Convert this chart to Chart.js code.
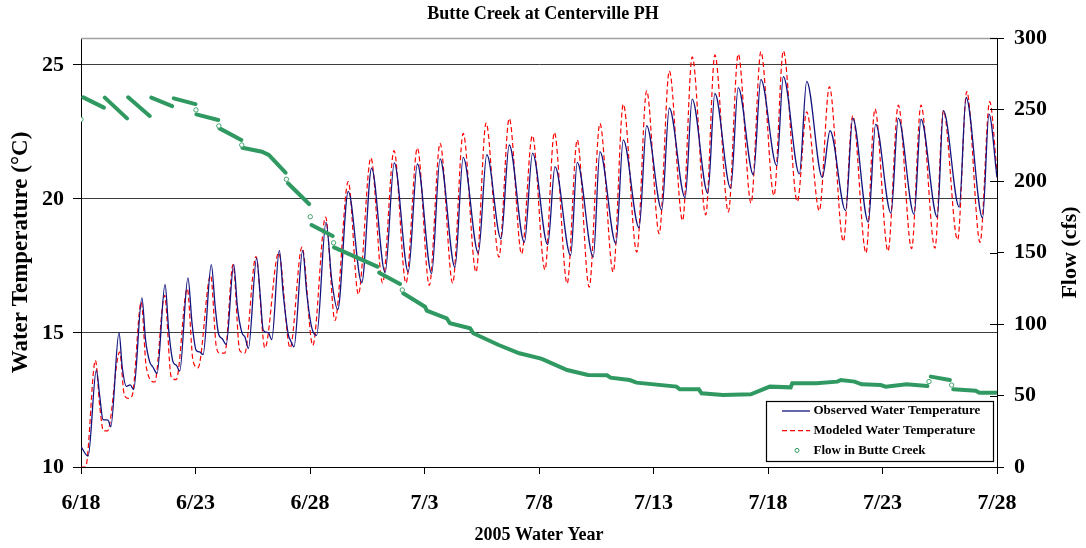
<!DOCTYPE html>
<html>
<head>
<meta charset="utf-8">
<title>Butte Creek at Centerville PH</title>
<script src="https://cdn.jsdelivr.net/npm/chart.js@4.4.1/dist/chart.umd.min.js"></script>
<style>
  body { margin: 0; background: #fff; }
  #wrap { width: 1086px; height: 548px; }
</style>
</head>
<body>
<div id="wrap"><canvas id="graficoButte" width="1086" height="548"></canvas></div>
<script>
// datos (x = dias desde 6/18 0:00)
const tickLabels = ['6/18', '6/23', '6/28', '7/3', '7/8', '7/13', '7/18', '7/23', '7/28'];

const obsTime = [0.00, 0.31, 0.67, 0.82, 0.96, 1.18, 1.30, 1.66, 1.80, 1.98, 2.15, 2.30, 2.66, 2.82, 3.00, 3.14, 3.32,
  3.67, 3.83, 4.02, 4.16, 4.31, 4.67, 4.85, 5.03, 5.18, 5.33, 5.69, 5.86, 6.01, 6.16, 6.34, 6.67, 6.83, 7.03, 7.16, 7.31,
  7.67, 7.82, 7.96, 8.18, 8.33, 8.66, 8.83, 9.05, 9.16, 9.30, 9.68, 9.86, 10.07, 10.29, 10.70, 10.95, 11.21, 11.67,
  12.26, 12.69, 13.28, 13.68, 14.29, 14.69, 15.31, 15.68, 16.33, 16.69, 17.35, 17.72, 18.34, 18.70, 19.36, 19.72,
  20.38, 20.70, 21.38, 21.67, 22.37, 22.66, 23.36, 23.68, 24.37, 24.70, 25.36, 25.69, 26.38, 26.69, 27.37, 27.68,
  28.37, 28.70, 29.36, 29.69, 30.38, 30.67, 31.37, 31.69, 32.37, 32.71, 33.39, 33.70, 34.38, 34.70, 35.37, 35.69,
  36.38, 36.68, 37.39, 37.66, 38.35, 38.65, 39.37, 39.65, 40.00];
const obsTemp = [10.76, 10.41, 13.61, 12.62, 11.77, 11.75, 11.50, 15.01, 13.73, 13.01, 13.06, 12.89, 16.31, 14.73, 13.92, 13.73, 13.49,
  16.81, 15.10, 13.92, 13.80, 13.58, 17.05, 15.35, 14.35, 14.29, 14.19, 17.55, 15.97, 14.95, 14.79, 14.57, 17.55, 15.97, 15.00, 14.85, 14.42,
  17.79, 16.46, 15.10, 15.01, 14.75, 18.08, 16.46, 14.95, 14.70, 14.48, 18.08, 16.46, 15.22, 14.91, 19.13, 16.96, 15.87, 20.28,
  16.87, 21.15, 17.25, 21.34, 17.27, 21.30, 17.21, 21.49, 17.45, 21.55, 17.98, 21.65, 18.51, 22.01, 18.38, 21.71,
  18.29, 21.20, 17.89, 21.36, 17.83, 21.76, 18.33, 22.20, 18.92, 22.73, 19.59, 23.39, 20.04, 23.72, 20.21, 23.93,
  20.39, 24.15, 20.90, 24.46, 21.24, 24.56, 20.93, 24.38, 20.80, 22.54, 19.56, 23.01, 19.13, 22.79, 19.47, 23.01,
  19.42, 22.97, 19.32, 23.29, 19.69, 23.78, 19.29, 23.16, 20.80];

const modTime = [0.00, 0.20, 0.63, 0.82, 0.98, 1.16, 1.69, 1.88, 2.05, 2.23, 2.63, 2.85, 3.22, 3.65, 3.94, 4.16, 4.64,
  4.89, 5.11, 5.66, 5.91, 6.06, 6.28, 6.64, 6.93, 7.15, 7.64, 8.03, 8.63, 9.13, 9.65, 10.12, 10.68, 11.09, 11.67,
  12.11, 12.66, 13.17, 13.67, 14.19, 14.69, 15.21, 15.68, 16.23, 16.69, 17.25, 17.69, 18.25, 18.70, 19.24, 19.71,
  20.26, 20.67, 21.23, 21.67, 22.19, 22.66, 23.24, 23.68, 24.27, 24.70, 25.25, 25.69, 26.27, 26.69, 27.28, 27.68,
  28.27, 28.70, 29.26, 29.69, 30.26, 30.67, 31.28, 31.69, 32.24, 32.68, 33.29, 33.70, 34.28, 34.67, 35.24, 35.69,
  36.27, 36.68, 37.29, 37.66, 38.28, 38.68, 39.26, 39.68, 40.00];
const modTemp = [10.00, 10.00, 13.98, 12.25, 11.35, 11.35, 14.29, 12.74, 12.56, 12.65, 16.15, 13.73, 13.17, 16.40, 13.36, 13.26, 16.65,
  13.98, 13.70, 17.15, 14.48, 14.25, 14.25, 17.55, 14.35, 14.25, 17.85, 14.44, 17.99, 14.44, 18.20, 14.54, 19.32, 15.47, 20.64,
  16.44, 21.53, 16.87, 21.80, 16.86, 21.90, 16.77, 22.07, 16.86, 22.44, 17.27, 22.83, 17.83, 23.00, 17.95, 22.36,
  17.36, 22.48, 16.84, 22.20, 16.71, 22.81, 17.27, 23.53, 18.01, 24.03, 18.70, 24.77, 19.19, 25.30, 19.40, 25.37,
  19.51, 25.40, 19.84, 25.49, 20.12, 25.52, 19.90, 23.25, 19.56, 24.19, 18.41, 23.10, 17.98, 23.35, 18.05, 23.50,
  18.14, 23.50, 18.16, 23.29, 18.47, 24.00, 18.38, 23.63, 21.00];

// null = corte en la serie de caudal
const flowTime = [0.00, 0.00, 0.10, 1.00, 1.00, 1.04, 2.01, 2.01, 2.06, 3.00, 3.00, 3.07, 3.98, 3.98, 4.05, 5.00, 5.00,
  5.02, 5.02, 5.04, 5.99, 5.99, 6.02, 6.02, 6.05, 7.00, 7.00, 7.02, 7.02, 7.05, 7.90, 8.20, 8.93, 8.93, 8.97, 8.97,
  9.04, 9.96, 9.96, 10.01, 10.01, 10.07, 10.99, 10.99, 11.03, 11.03, 11.05, 12.94, 12.94, 13.02, 13.93, 13.93,
  14.03, 14.03, 14.07, 15.02, 15.10, 15.97, 16.11, 16.99, 17.13, 18.24, 19.14, 20.05, 20.17, 21.23, 22.14, 22.97,
  23.12, 23.96, 24.26, 26.00, 26.15, 26.98, 27.10, 28.03, 29.25, 30.08, 30.99, 31.06, 32.12, 33.03, 33.18, 33.78,
  34.09, 34.92, 35.14, 36.05, 36.96, 36.96, 37.03, 37.03, 37.11, 37.94, 37.94, 38.02, 38.02, 38.09, 39.07, 39.23, 39.98];
const flowCfs = [243.1, null, 258.5, 251.3, null, 258.3, 243.8, null, 258.5, 245.5, null, 258.3, 252.4, null, 257.8, 253.8, null,
  249.7, null, 246.6, 242.7, null, 238.5, null, 236.8, 228.7, null, 225.2, null, 223.3, 220.5, 218.2, 205.8, null, 201.2, null,
  198.4, 183.9, null, 175.0, null, 169.2, 161.5, null, 156.8, null, 153.6, 140.1, null, 135.9, 128.0, null,
  123.8, null, 121.5, 112.1, 109.3, 104.0, 100.5, 97.0, 93.5, 85.3, 79.5, 76.0, 75.3, 67.8, 64.3, 64.1,
  62.5, 60.8, 59.0, 56.2, 54.3, 54.3, 51.5, 50.3, 50.8, 56.2, 55.7, 58.5, 58.5, 59.7, 60.8, 59.7,
  57.8, 57.3, 56.2, 57.8, 56.6, null, 59.7, null, 63.2, 60.8, null, 57.3, null, 54.3, 53.4, 52.0, 52.0];

const serif = "'Liberation Serif', 'Times New Roman', serif";

function pares(xs, ys) {
    return xs.map((x, i) => ({ x: x, y: ys[i] }));
}

// puntos sueltos del caudal (sin vecinos) se dibujan como circulitos
function puntoSuelto(ctx) {
    const d = ctx.dataset.data;
    const i = ctx.dataIndex;
    if (d[i].y === null) return 0;
    const prev = i > 0 ? d[i - 1].y : null;
    const next = i < d.length - 1 ? d[i + 1].y : null;
    return (prev === null && next === null) ? 2.2 : 0;
}

const extras = {
    id: 'extras',
    afterDraw(chart, args, opts) {
        const { ctx, chartArea } = chart;
        const y1 = chart.scales.y1;
        ctx.save();
        // borde superior del area
        ctx.strokeStyle = '#a0a0a0';
        ctx.lineWidth = 1.5;
        ctx.beginPath();
        ctx.moveTo(chartArea.left, chartArea.top + 0.5);
        ctx.lineTo(chartArea.right, chartArea.top + 0.5);
        ctx.stroke();
        // marcas internas del eje derecho
        ctx.strokeStyle = '#000';
        ctx.lineWidth = 1;
        y1.ticks.forEach(t => {
            const py = Math.round(y1.getPixelForValue(t.value)) + 0.5;
            ctx.beginPath();
            ctx.moveTo(chartArea.right - 7, py);
            ctx.lineTo(chartArea.right, py);
            ctx.stroke();
        });
        // titulo eje derecho
        ctx.fillStyle = '#000';
        ctx.font = 'bold 22px ' + serif;
        ctx.textAlign = 'center';
        ctx.textBaseline = 'middle';
        ctx.translate(opts.flowTitleX, (chartArea.top + chartArea.bottom) / 2);
        ctx.rotate(-Math.PI / 2);
        ctx.fillText(opts.flowTitle, 0, 0);
        ctx.restore();

        // leyenda
        const b = opts.box;
        ctx.save();
        ctx.fillStyle = '#fff';
        ctx.fillRect(b.x, b.y, b.w, b.h);
        ctx.strokeStyle = '#000';
        ctx.lineWidth = 1.2;
        ctx.strokeRect(b.x + 0.5, b.y + 0.5, b.w, b.h);
        ctx.font = 'bold 13px ' + serif;
        ctx.textBaseline = 'middle';
        chart.data.datasets.forEach((ds, i) => {
            const ry = b.y + 10 + i * 19.7;
            ctx.strokeStyle = ds.borderColor;
            if (ds.legendDot) {
                ctx.lineWidth = 1;
                ctx.fillStyle = '#fff';
                ctx.beginPath();
                ctx.arc(b.x + 31, ry, 2, 0, Math.PI * 2);
                ctx.fill();
                ctx.stroke();
            } else {
                ctx.lineWidth = ds.borderWidth;
                ctx.setLineDash(ds.borderDash || []);
                ctx.beginPath();
                ctx.moveTo(b.x + 16, ry);
                ctx.lineTo(b.x + 44, ry);
                ctx.stroke();
                ctx.setLineDash([]);
            }
            ctx.fillStyle = '#000';
            ctx.textAlign = 'left';
            ctx.fillText(ds.label, b.x + 47.5, ry);
        });
        ctx.restore();
    }
};

const ctxButte = document.getElementById('graficoButte');

let butteChart = new Chart(ctxButte, {
    type: 'line',
    data: {
        datasets: [{
            label: 'Observed Water Temperature',
            data: pares(obsTime, obsTemp),
            borderColor: '#13137f',
            borderWidth: 1.3,
            pointRadius: 0,
            cubicInterpolationMode: 'monotone',
            yAxisID: 'y',
            order: 1
        }, {
            label: 'Modeled Water Temperature',
            data: pares(modTime, modTemp),
            borderColor: '#ff0000',
            borderWidth: 1.2,
            borderDash: [5, 3],
            pointRadius: 0,
            cubicInterpolationMode: 'monotone',
            yAxisID: 'y',
            order: 2
        }, {
            label: 'Flow in Butte Creek',
            data: pares(flowTime, flowCfs),
            borderColor: 'rgb(48, 153, 98)',
            borderWidth: 4,
            borderCapStyle: 'round',
            tension: 0,
            spanGaps: false,
            pointRadius: puntoSuelto,
            pointBorderWidth: 1,
            pointBackgroundColor: '#fff',
            pointBorderColor: 'rgb(70, 165, 110)',
            legendDot: true,
            yAxisID: 'y1',
            order: 0
        }]
    },
    options: {
        responsive: false,
        animation: false,
        events: [],
        layout: { padding: 0 },
        plugins: {
            legend: { display: false },
            tooltip: { enabled: false },
            title: {
                display: true,
                text: 'Butte Creek at Centerville PH',
                color: '#000',
                font: { family: serif, size: 18, weight: 'bold' },
                padding: { top: 4, bottom: 12.4 }
            },
            extras: {
                flowTitle: 'Flow (cfs)',
                flowTitleX: 1070,
                box: { x: 766, y: 401, w: 227, h: 60 }
            }
        },
        scales: {
            x: {
                type: 'linear',
                position: 'bottom',
                min: 0,
                max: 40,
                afterFit: s => { s.height = 81; },
                ticks: {
                    stepSize: 5,
                    autoSkip: false,
                    maxRotation: 0,
                    padding: 16,
                    color: '#000',
                    font: { family: serif, size: 22, weight: 'bold' },
                    callback: (v, i) => tickLabels[i]
                },
                grid: { drawOnChartArea: false, tickLength: 7, tickColor: '#000' },
                border: { color: '#000', width: 1 },
                title: {
                    display: true,
                    text: '2005 Water Year',
                    color: '#000',
                    font: { family: serif, size: 18, weight: 'bold' },
                    padding: { top: 0, bottom: 2 }
                }
            },
            y: {
                position: 'left',
                min: 10,
                max: 26,
                afterFit: s => { s.width = 81; },
                ticks: {
                    stepSize: 5,
                    includeBounds: false,
                    padding: 9,
                    color: '#000',
                    font: { family: serif, size: 22, weight: 'bold' }
                },
                grid: { color: '#3c3c3c', lineWidth: 1, tickLength: 8, tickColor: '#000' },
                border: { color: '#000', width: 1 },
                title: {
                    display: true,
                    text: 'Water Temperature (°C)',
                    color: '#000',
                    font: { family: serif, size: 23, weight: 'bold' },
                    padding: { top: 7.2, bottom: 0 }
                }
            },
            y1: {
                position: 'right',
                min: 0,
                max: 300,
                afterFit: s => { s.width = 89; },
                ticks: {
                    stepSize: 50,
                    padding: 10,
                    color: '#000',
                    font: { family: serif, size: 22, weight: 'bold' }
                },
                grid: { drawOnChartArea: false, tickLength: 7, tickColor: '#000' },
                border: { color: '#000', width: 1 }
            }
        }
    },
    plugins: [extras]
});
</script>
</body>
</html>
